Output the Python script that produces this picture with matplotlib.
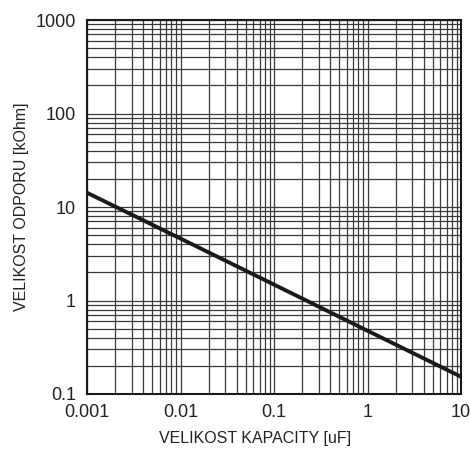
import matplotlib.pyplot as plt
from matplotlib.ticker import FixedLocator, NullFormatter, LogLocator

# capacitance [uF] vs resistance [kOhm]
kapacita = [0.001, 0.01, 0.1, 1, 10]
odpor = [14.2, 4.6, 1.48, 0.475, 0.153]

x_ticks = [0.001, 0.01, 0.1, 1, 10]
x_labels = ["0.001", "0.01", "0.1", "1", "10"]
y_ticks = [0.1, 1, 10, 100, 1000]
y_labels = ["0.1", "1", "10", "100", "1000"]

plt.rcParams['font.family'] = ['Liberation Sans', 'DejaVu Sans']

fig = plt.figure(figsize=(4.71, 4.51), dpi=100)
ax = fig.add_axes([87 / 471, 1 - 394 / 451, 374 / 471, 374 / 451])

ax.plot(kapacita, odpor, color='#1a1a1a', lw=2.8, solid_capstyle='butt', zorder=3)

ax.set_xscale('log')
ax.set_yscale('log')
ax.set_xlim(0.001, 10)
ax.set_ylim(0.1, 1000)

ax.xaxis.set_major_locator(FixedLocator(x_ticks))
ax.set_xticklabels(x_labels)
ax.yaxis.set_major_locator(FixedLocator(y_ticks))
ax.set_yticklabels(y_labels)
ax.xaxis.set_minor_locator(LogLocator(base=10, subs=range(2, 10)))
ax.yaxis.set_minor_locator(LogLocator(base=10, subs=range(2, 10)))
ax.xaxis.set_minor_formatter(NullFormatter())
ax.yaxis.set_minor_formatter(NullFormatter())

ax.grid(which='both', color='#3a3a3a', lw=0.9)
ax.set_axisbelow(True)
ax.tick_params(which='both', length=0, labelsize=13, colors='#222222')
ax.tick_params(axis='x', pad=7)
ax.tick_params(axis='y', pad=8)

for s in ax.spines.values():
    s.set_linewidth(1.5)
    s.set_color('#1a1a1a')

ax.set_xlabel("VELIKOST KAPACITY [uF]", fontsize=11.5, color='#222222')
ax.xaxis.set_label_coords(0.45, -0.1)
ax.set_ylabel("VELIKOST ODPORU [kOhm]", fontsize=11.5, color='#222222', labelpad=5)

fig.savefig("out.png", dpi=100)
